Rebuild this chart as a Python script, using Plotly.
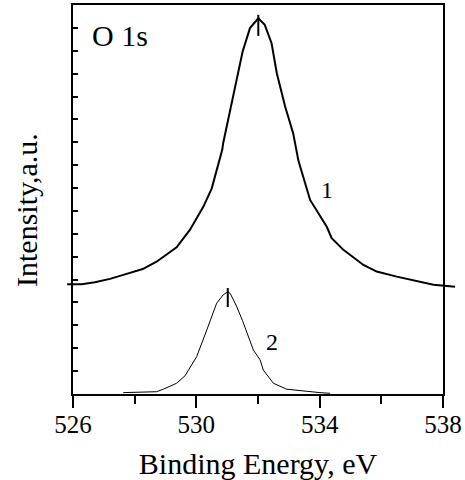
import plotly.graph_objects as go

# Curve 1 (upper spectrum)
e1 = [525.81, 526.28, 526.71, 527.20, 527.74, 528.26, 528.71, 529.36, 529.79, 530.23,
      530.50, 530.66, 530.84, 530.87, 531.20, 531.50, 531.74, 531.90, 532.01, 532.22,
      532.44, 532.61, 532.88, 533.14, 533.31, 533.69, 534.23, 534.39, 534.77, 535.42,
      535.85, 536.50, 537.15, 537.69, 538.39]
i1 = [4.80, 4.80, 4.88, 5.03, 5.25, 5.46, 5.78, 6.41, 7.17, 8.19,
      8.99, 9.79, 10.67, 10.96, 13.0, 14.96, 15.99, 16.25, 16.42, 16.13,
      15.33, 14.02, 12.56, 11.40, 10.20, 8.48, 7.31, 6.81, 6.30, 5.64,
      5.35, 5.13, 4.94, 4.77, 4.69]

# Curve 2 (lower spectrum)
e2 = [527.63, 528.71, 528.93, 529.36, 529.63, 530.01, 530.34, 530.66, 530.87, 531.02,
      531.10, 531.30, 531.50, 531.74, 531.85, 532.07, 532.17, 532.50, 532.93, 534.01, 534.34]
i2 = [0.06, 0.10, 0.21, 0.47, 0.79, 1.63, 2.80, 3.97, 4.33, 4.47,
      4.39, 3.85, 3.20, 2.36, 1.92, 1.49, 1.05, 0.47, 0.21, 0.06, 0.03]

# Peak position markers
peak_e = [532.01, 531.02]
peak_lo = [15.65, 3.80]
peak_hi = [16.57, 4.63]

curve_labels = ["1", "2"]
label_e = [534.23, 532.44]
label_i = [8.92, 2.29]

x_range = [526, 538]
y_range = [0, 17]
x_ticks = [526, 530, 534, 538]

W, H = 465, 480
PL, PR, PT, PB = 73, 443, 5, 394   # frame in pixels
ppx = (PR - PL) / (x_range[1] - x_range[0])
EXL, EXR = 60, 459                 # drawing area slightly wider than frame
x2_range = [x_range[0] - (PL - EXL) / ppx, x_range[0] + (EXR - PL) / ppx]

font = "Liberation Serif"

fig = go.Figure()
fig.add_trace(go.Scatter(x=e1, y=i1, mode="lines", xaxis="x2", yaxis="y",
                         line=dict(color="black", width=2), showlegend=False))
fig.add_trace(go.Scatter(x=e2, y=i2, mode="lines", xaxis="x2", yaxis="y",
                         line=dict(color="black", width=1), showlegend=False))
for k in range(len(peak_e)):
    fig.add_trace(go.Scatter(x=[peak_e[k], peak_e[k]], y=[peak_lo[k], peak_hi[k]],
                             mode="lines", xaxis="x2", yaxis="y",
                             line=dict(color="black", width=2), showlegend=False))

for k in range(len(curve_labels)):
    fig.add_annotation(x=label_e[k], y=label_i[k], xref="x", yref="y",
                       text=curve_labels[k], showarrow=False,
                       font=dict(family=font, size=24, color="black"))
fig.add_annotation(x=527.52, y=15.65, xref="x", yref="y", text="O 1s", showarrow=False,
                   font=dict(family=font, size=30, color="black"))
# y-axis title (sits slightly below the frame centre in the original)
fig.add_annotation(x=26 / W, y=(H - 210) / H, xref="paper", yref="paper",
                   xanchor="center", yanchor="middle",
                   text="Intensity,a.u.", textangle=-90, showarrow=False,
                   font=dict(family=font, size=30, color="black"))

fig.update_layout(
    width=W, height=H,
    margin=dict(l=0, r=0, t=0, b=0, autoexpand=False),
    paper_bgcolor="white", plot_bgcolor="rgba(0,0,0,0)",
    font=dict(family=font, color="black"),
    xaxis=dict(domain=[PL / W, PR / W], range=x_range, anchor="y", automargin=False,
               tickvals=x_ticks, ticks="outside", ticklen=12, tickwidth=2,
               tickcolor="black", showline=True, linecolor="black", linewidth=2,
               mirror=True, showgrid=False, zeroline=False, ticklabelstandoff=-5,
               tickfont=dict(family=font, size=25, color="black"),
               minor=dict(dtick=2, ticks="outside", ticklen=8, tickwidth=2,
                          tickcolor="black", showgrid=False),
               title=dict(text="Binding Energy, eV", standoff=18,
                          font=dict(family=font, size=30, color="black"))),
    xaxis2=dict(domain=[EXL / W, EXR / W], range=x2_range, anchor="y", automargin=False,
                visible=False, showgrid=False, zeroline=False),
    yaxis=dict(domain=[(H - PB) / H, (H - PT) / H], range=y_range, anchor="x",
               automargin=False,
               dtick=1, ticks="inside", ticklen=5, tickwidth=2, tickcolor="black",
               showticklabels=False, showline=True, linecolor="black", linewidth=2,
               mirror=True, showgrid=False, zeroline=False),
)

fig.write_html("out.html")
